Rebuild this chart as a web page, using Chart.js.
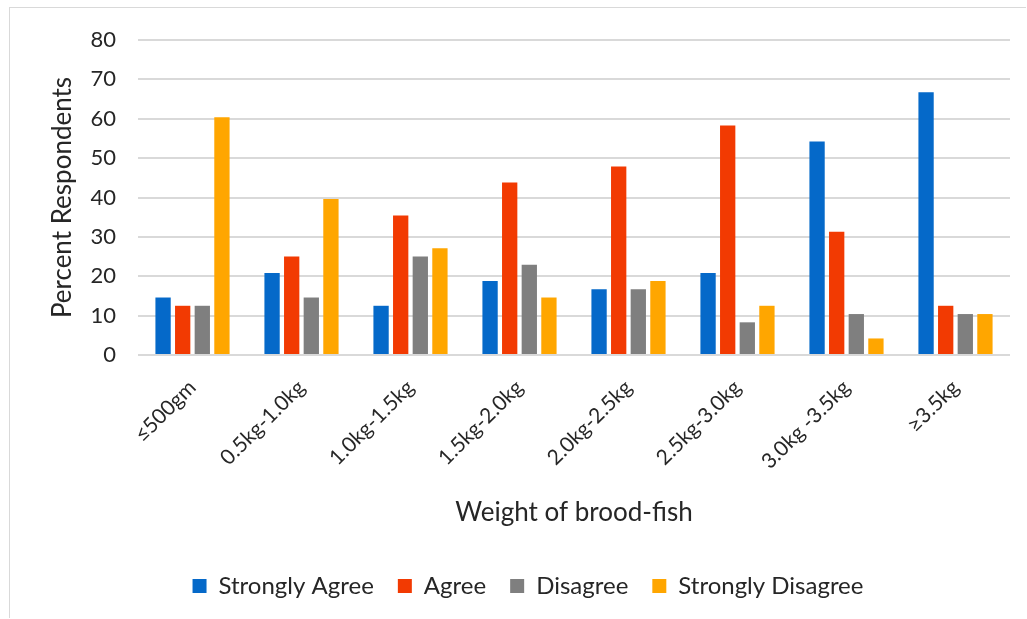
<!DOCTYPE html>
<html>
<head>
<meta charset="utf-8">
<title>Weight of brood-fish</title>
<script src="https://cdn.jsdelivr.net/npm/chart.js@4.4.1/dist/chart.umd.min.js"></script>
<style>
  html, body { margin: 0; padding: 0; background: #ffffff; }
  #frame {
    position: absolute; left: 9px; top: 7px; width: 1017px; height: 611px;
    border: 1px solid #d9d9d9; border-right: none; border-bottom: none;
    box-sizing: border-box; background: #ffffff;
  }
  #wrap { position: absolute; left: 0; top: 0; width: 1027px; height: 619px; }
</style>
</head>
<body>
<div id="frame"></div>
<div id="wrap"><canvas id="chart" width="1027" height="619"></canvas></div>
<script>
// Weight classes of brood-fish
const categories = ['≤500gm', '0.5kg-1.0kg', '1.0kg-1.5kg', '1.5kg-2.0kg', '2.0kg-2.5kg', '2.5kg-3.0kg', '3.0kg -3.5kg', '≥3.5kg'];

// Percent of respondents per answer
const stronglyAgree    = [14.6, 20.8, 12.5, 18.8, 16.7, 20.8, 54.2, 66.7];
const agree            = [12.5, 25.0, 35.4, 43.8, 47.9, 58.3, 31.3, 12.5];
const disagree         = [12.5, 14.6, 25.0, 22.9, 16.7,  8.3, 10.4, 10.4];
const stronglyDisagree = [60.4, 39.6, 27.1, 14.6, 18.8, 12.5,  4.2, 10.4];

const yTicks = [0, 10, 20, 30, 40, 50, 60, 70, 80];

const seriesNames  = ['Strongly Agree', 'Agree', 'Disagree', 'Strongly Disagree'];
const seriesColors = ['#0569C9', '#F23A02', '#7F7F7F', '#FFA600'];
const seriesValues = [stronglyAgree, agree, disagree, stronglyDisagree];

const textColor = '#262626';
const family = 'Lato, "Open Sans", sans-serif';

// Nudge the legend row so it sits centred under the whole frame
const legendShift = {
  id: 'legendShift',
  afterLayout(chart) {
    const lg = chart.legend;
    if (lg) { lg.left += 18; lg.right += 18; }
  }
};

new Chart(document.getElementById('chart'), {
  type: 'bar',
  data: {
    labels: categories,
    datasets: seriesNames.map((name, i) => ({
      label: name,
      data: seriesValues[i],
      backgroundColor: seriesColors[i],
      borderWidth: 0,
      categoryPercentage: 0.72,
      barPercentage: 0.78
    }))
  },
  options: {
    responsive: false,
    animation: false,
    devicePixelRatio: 1,
    layout: { padding: { left: 10, top: 40, right: 17, bottom: 11 } },
    plugins: {
      tooltip: { enabled: false },
      legend: {
        position: 'bottom',
        labels: {
          color: textColor,
          font: { family, size: 24 },
          boxWidth: 14,
          boxHeight: 14,
          padding: 24
        }
      }
    },
    scales: {
      x: {
        grid: { display: false },
        border: { display: false },
        ticks: {
          color: textColor,
          font: { family, size: 21 },
          minRotation: 45,
          maxRotation: 45,
          padding: 12,
          autoSkip: false
        },
        title: {
          display: true,
          text: 'Weight of brood-fish',
          color: textColor,
          font: { family, size: 26 },
          padding: { top: 5, bottom: 22 }
        },
        afterFit: (scale) => { scale.height = 195; }
      },
      y: {
        min: 0,
        max: 80,
        afterBuildTicks: (scale) => { scale.ticks = yTicks.map(v => ({ value: v })); },
        grid: { color: '#d9d9d9', lineWidth: 2, drawTicks: false },
        border: { display: false },
        ticks: {
          color: textColor,
          font: { family, size: 22 },
          padding: 22
        },
        title: {
          display: true,
          text: 'Percent Respondents',
          color: textColor,
          font: { family, size: 26 },
          padding: { top: 37, bottom: 0 }
        },
        afterFit: (scale) => { scale.width = 128; }
      }
    }
  },
  plugins: [legendShift]
});
</script>
</body>
</html>
